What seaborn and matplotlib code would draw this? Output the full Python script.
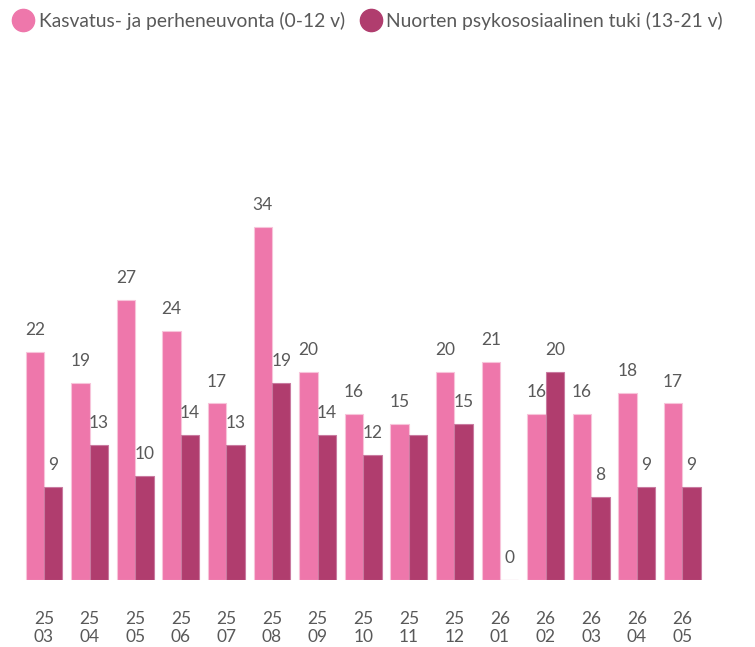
import pandas as pd
import matplotlib.pyplot as plt
import seaborn as sns
from matplotlib.lines import Line2D

# Data
months = ["25\n03", "25\n04", "25\n05", "25\n06", "25\n07", "25\n08", "25\n09", "25\n10",
          "25\n11", "25\n12", "26\n01", "26\n02", "26\n03", "26\n04", "26\n05"]
kasvatus = [22, 19, 27, 24, 17, 34, 20, 16, 15, 20, 21, 16, 16, 18, 17]
nuorten = [9, 13, 10, 14, 13, 19, 14, 12, 14, 15, 0, 20, 8, 9, 9]
nuorten_labels = ["9", "13", "10", "14", "13", "19", "14", "12", "", "15", "0", "20", "8", "9", "9"]

s1 = "Kasvatus- ja perheneuvonta (0-12 v)"
s2 = "Nuorten psykososiaalinen tuki (13-21 v)"
pink = "#EE77AB"
plum = "#B03D6E"

df = pd.DataFrame({
    "month": months * 2,
    "value": kasvatus + nuorten,
    "series": [s1] * len(months) + [s2] * len(months),
})

sns.set_style("white")
plt.rcParams['font.family'] = ['Lato', 'DejaVu Sans']

fig = plt.figure(figsize=(7.55, 6.47), dpi=100)
ax = fig.add_axes([21.2 / 755, 67 / 647, 684 / 755, 472.5 / 647])

sns.barplot(data=df, x="month", y="value", hue="series", palette=[pink, plum],
            saturation=1, width=0.81, gap=0, ax=ax, legend=False,
            linewidth=0.8, edgecolor="#f7c4da")
for p in ax.containers[1]:
    p.set_edgecolor("#c97aa0")

ax.bar_label(ax.containers[0], labels=[str(v) for v in kasvatus], padding=10,
             fontsize=12.5, color="#595959")
ax.bar_label(ax.containers[1], labels=nuorten_labels, padding=10,
             fontsize=12.5, color="#595959")

ax.set_xlim(-0.5, 14.5)
ax.set_ylim(0, 45.5)
ax.set_xlabel("")
ax.set_ylabel("")
ax.set_yticks([])
ax.tick_params(axis="x", length=0, pad=22, labelsize=12.5, labelcolor="#595959")
sns.despine(ax=ax, left=True, bottom=True)

handles = [Line2D([], [], marker="o", ls="", ms=16, color=pink),
           Line2D([], [], marker="o", ls="", ms=16, color=plum)]
fig.legend(handles, [s1, s2], loc="upper left", bbox_to_anchor=(-0.01, 1.0), ncol=2,
           frameon=False, fontsize=13.9, handletextpad=-0.2, columnspacing=0.35,
           labelcolor="#595959", borderaxespad=0.2)

plt.savefig("out.png", dpi=100)
